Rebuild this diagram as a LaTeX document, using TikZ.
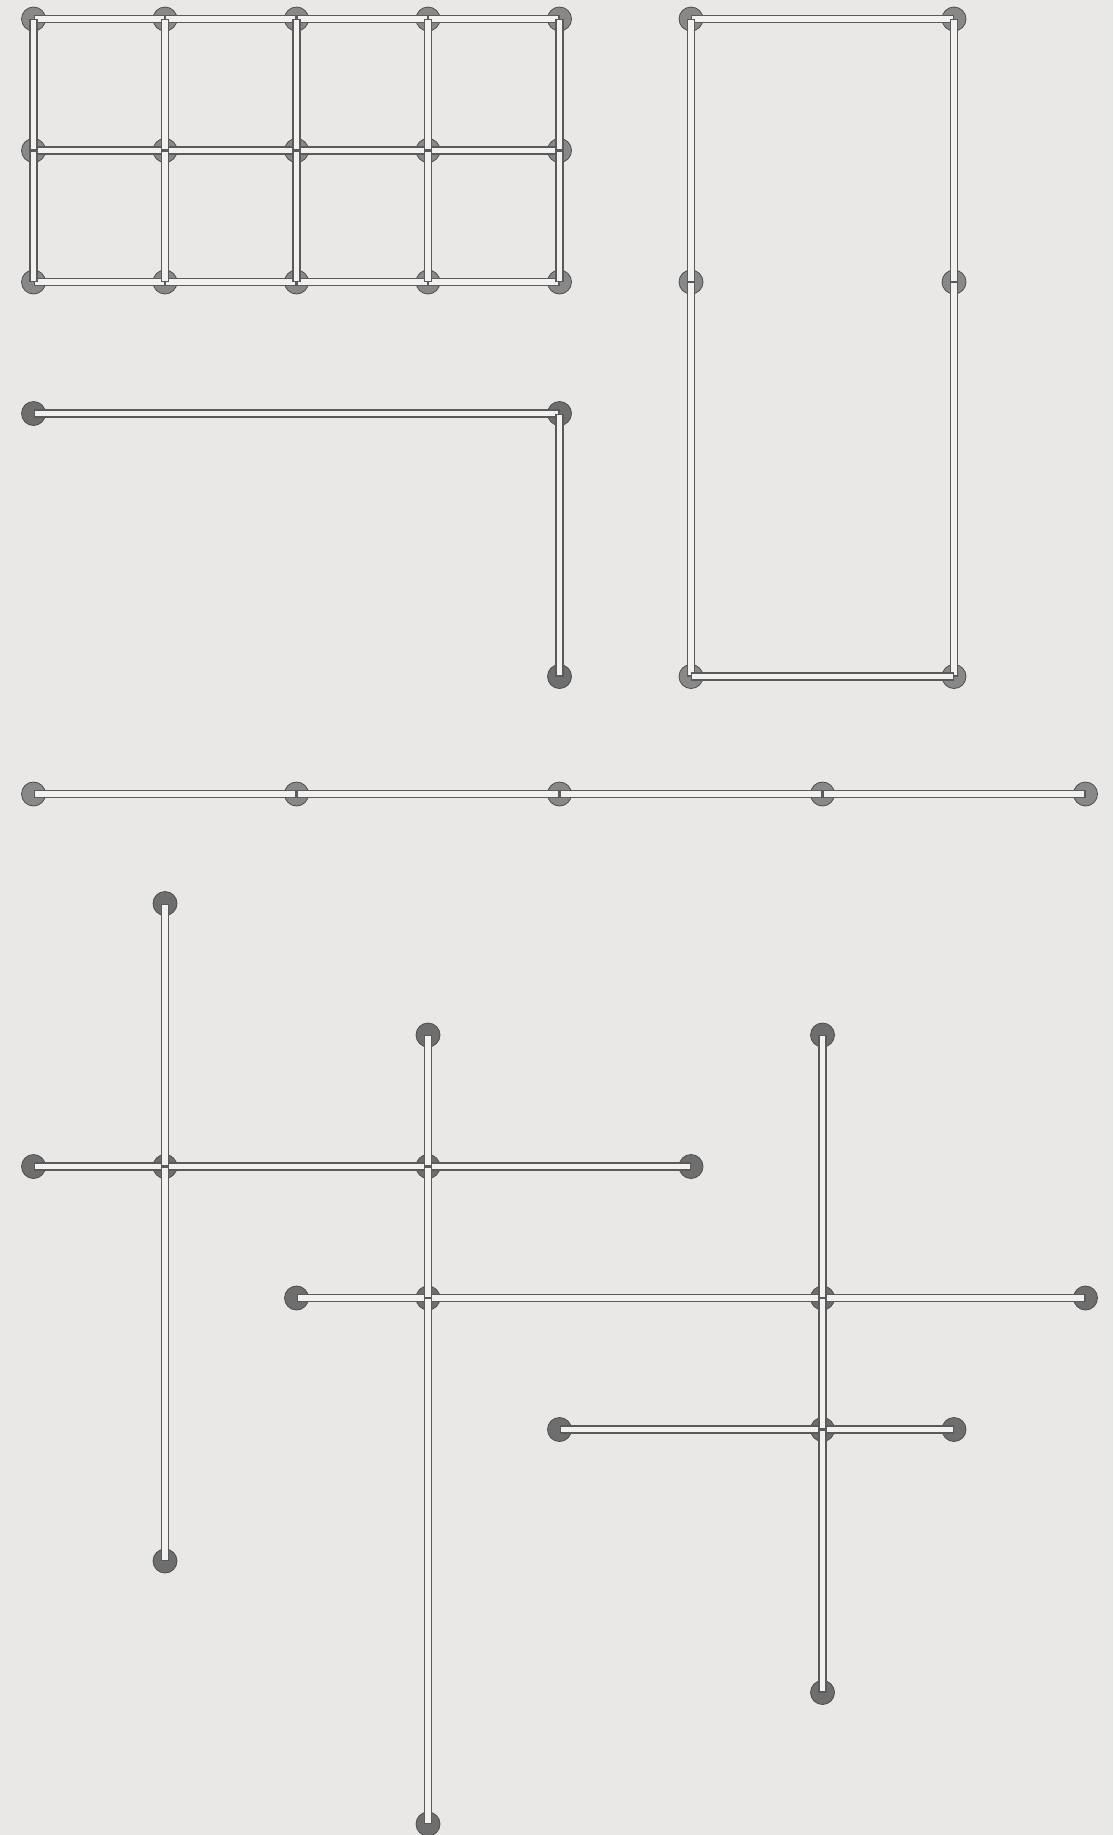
\documentclass[tikz,border=0pt]{standalone}
\usetikzlibrary{calc}

\definecolor{bgcol}{HTML}{E9E8E6}
\definecolor{jointlight}{HTML}{888888}
\definecolor{jointdark}{HTML}{6E6E6E}
\definecolor{pipeedge}{HTML}{5A5A5A}
\definecolor{pipefill}{HTML}{F2F1F0}

\begin{document}
\begin{tikzpicture}[
    x=2.63cm, y=-2.63cm,
    joint/.style={circle, draw=black!70, line width=0.45pt, minimum size=0.48cm,
      inner sep=0pt, fill=jointlight},
    jdark/.style={joint, fill=jointdark},
    pipe/.style={draw=pipefill, line width=3.1pt, shorten <=0.6pt, shorten >=0.6pt,
      preaction={draw=pipeedge, line width=4.6pt, shorten <=0pt, shorten >=0pt}},
  ]
  \fill[bgcol] (-0.2548,-0.1445) rectangle (8.2091,13.8099);
  \useasboundingbox (-0.2548,-0.1445) rectangle (8.2091,13.8099);

  % top-left grid, 5 x 3
  \foreach \i in {0,...,4}
    \foreach \j in {0,1,2}
      \node[joint] (g\i\j) at (\i,\j) {};
  \foreach \i [count=\k] in {0,...,3}
    \foreach \j in {0,1,2}
      \draw[pipe] (g\i\j.center) -- (g\k\j.center);
  \foreach \i in {0,...,4}
    \foreach \j [count=\k] in {0,1}
      \draw[pipe] (g\i\j.center) -- (g\i\k.center);

  % L piece
  \node[jdark] (l1) at (0,3) {};
  \node[jdark] (l2) at (4,3) {};
  \node[jdark] (l3) at (4,5) {};
  \draw[pipe] (l1.center) -- (l2.center);
  \draw[pipe] (l2.center) -- (l3.center);

  % tall frame
  \node[joint] (r1) at (5,0) {};
  \node[joint] (r2) at (7,0) {};
  \node[joint] (r3) at (5,2) {};
  \node[joint] (r4) at (7,2) {};
  \node[joint] (r5) at (5,5) {};
  \node[joint] (r6) at (7,5) {};
  \draw[pipe] (r1.center) -- (r2.center);
  \draw[pipe] (r1.center) -- (r3.center);
  \draw[pipe] (r3.center) -- (r5.center);
  \draw[pipe] (r2.center) -- (r4.center);
  \draw[pipe] (r4.center) -- (r6.center);
  \draw[pipe] (r5.center) -- (r6.center);

  % long bar
  \foreach \i in {0,...,4}
    \node[joint] (m\i) at (2*\i,5.8935) {};
  \foreach \i [count=\k] in {0,...,3}
    \draw[pipe] (m\i.center) -- (m\k.center);

  % crossing pipes below
  \begin{scope}[shift={(0,6.7262)}]
    \node[jdark] (a1) at (1,0) {};
    \node[jdark] (a2) at (1,2) {};
    \node[jdark] (a3) at (1,5) {};
    \node[jdark] (b1) at (0,2) {};
    \node[jdark] (b2) at (3,2) {};
    \node[jdark] (b3) at (5,2) {};
    \node[jdark] (c1) at (3,1) {};
    \node[jdark] (c2) at (3,3) {};
    \node[jdark] (c3) at (3,7) {};
    \node[jdark] (d1) at (2,3) {};
    \node[jdark] (d2) at (6,3) {};
    \node[jdark] (d3) at (8,3) {};
    \node[jdark] (e1) at (6,1) {};
    \node[jdark] (e2) at (6,4) {};
    \node[jdark] (e3) at (6,6) {};
    \node[jdark] (f1) at (4,4) {};
    \node[jdark] (f2) at (7,4) {};

    \draw[pipe] (b1.center) -- (a2.center);
    \draw[pipe] (a2.center) -- (b2.center);
    \draw[pipe] (b2.center) -- (b3.center);
    \draw[pipe] (d1.center) -- (c2.center);
    \draw[pipe] (c2.center) -- (d2.center);
    \draw[pipe] (d2.center) -- (d3.center);
    \draw[pipe] (f1.center) -- (e2.center);
    \draw[pipe] (e2.center) -- (f2.center);
    \draw[pipe] (a1.center) -- (a2.center);
    \draw[pipe] (a2.center) -- (a3.center);
    \draw[pipe] (c1.center) -- (b2.center);
    \draw[pipe] (b2.center) -- (c2.center);
    \draw[pipe] (c2.center) -- (c3.center);
    \draw[pipe] (e1.center) -- (d2.center);
    \draw[pipe] (d2.center) -- (e2.center);
    \draw[pipe] (e2.center) -- (e3.center);
  \end{scope}
\end{tikzpicture}
\end{document}
